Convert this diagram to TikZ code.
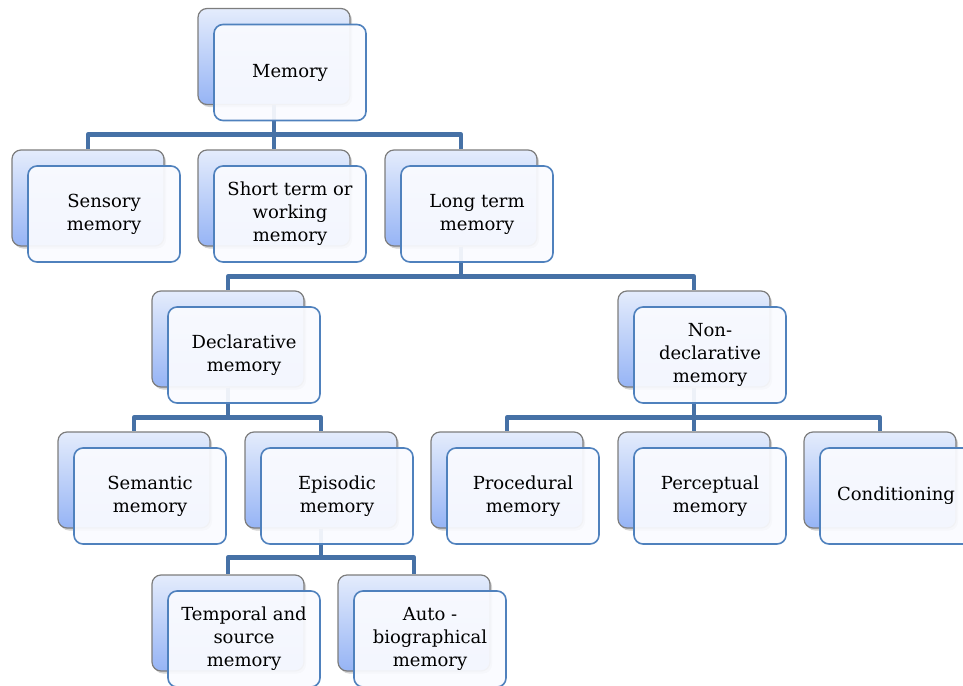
\documentclass[tikz,border=0pt]{standalone}
\usepackage{fontspec}
\setmainfont{DejaVu Serif}
\usetikzlibrary{shadows,backgrounds}
\definecolor{frontblue}{RGB}{79,129,189}
\definecolor{connblue}{RGB}{70,113,166}
\definecolor{backtop}{RGB}{228,236,252}
\definecolor{backbot}{RGB}{150,180,245}
\definecolor{backline}{RGB}{125,125,125}
\definecolor{frontfill}{RGB}{250,251,255}
\tikzset{
  backbox/.style={draw=backline, line width=1.2pt, rounded corners=9pt,
    minimum width=152pt, minimum height=96pt, inner sep=0pt,
    top color=backtop, bottom color=backbot,
    drop shadow={shadow xshift=2pt, shadow yshift=-2.5pt, opacity=0.35}},
  frontbox/.style={draw=frontblue, line width=1.6pt, rounded corners=9pt,
    minimum width=152pt, minimum height=96pt, inner sep=2pt,
    fill=frontfill, fill opacity=0.93, text opacity=1, align=center,
    font=\fontsize{18}{23}\selectfont},
  conn/.style={draw=connblue, line width=4.5pt, line join=round}
}
\newcommand\memnode[4]{%
  \node[backbox] (#1B) at (#2,#3) {};
  \node[frontbox] (#1F) at ([shift={(16,16)}]#1B.center) {#4};
}
\begin{document}
\begin{tikzpicture}[x=1pt,y=-1pt]
\useasboundingbox (0,0) rectangle (963,685);
\clip (0,0) rectangle (963,685);
\memnode{mem}{274}{56.5}{Memory}
\memnode{sen}{88}{198}{Sensory\\memory}
\memnode{sho}{274}{198}{Short term or\\working\\memory}
\memnode{lon}{461}{198}{Long term\\memory}
\memnode{dec}{228}{339}{Declarative\\memory}
\memnode{non}{694}{339}{Non-\\declarative\\memory}
\memnode{sem}{134}{480}{Semantic\\memory}
\memnode{epi}{321}{480}{Episodic\\memory}
\memnode{pro}{507}{480}{Procedural\\memory}
\memnode{per}{694}{480}{Perceptual\\memory}
\memnode{con}{880}{480}{Conditioning}
\memnode{tem}{228}{623}{Temporal and\\source\\memory}
\memnode{aut}{414}{623}{Auto -\\biographical\\memory}
\begin{pgfonlayer}{background}
\draw[conn] (memB.south) -- ++(0,29.5) -| (senB.north);
\draw[conn] (memB.south) -- ++(0,29.5) -| (shoB.north);
\draw[conn] (memB.south) -- ++(0,29.5) -| (lonB.north);
\draw[conn] (lonB.south) -- ++(0,30) -| (decB.north);
\draw[conn] (lonB.south) -- ++(0,30) -| (nonB.north);
\draw[conn] (decB.south) -- ++(0,30) -| (semB.north);
\draw[conn] (decB.south) -- ++(0,30) -| (epiB.north);
\draw[conn] (nonB.south) -- ++(0,30) -| (proB.north);
\draw[conn] (nonB.south) -- ++(0,30) -| (perB.north);
\draw[conn] (nonB.south) -- ++(0,30) -| (conB.north);
\draw[conn] (epiB.south) -- ++(0,29) -| (temB.north);
\draw[conn] (epiB.south) -- ++(0,29) -| (autB.north);
\end{pgfonlayer}
\end{tikzpicture}
\end{document}
